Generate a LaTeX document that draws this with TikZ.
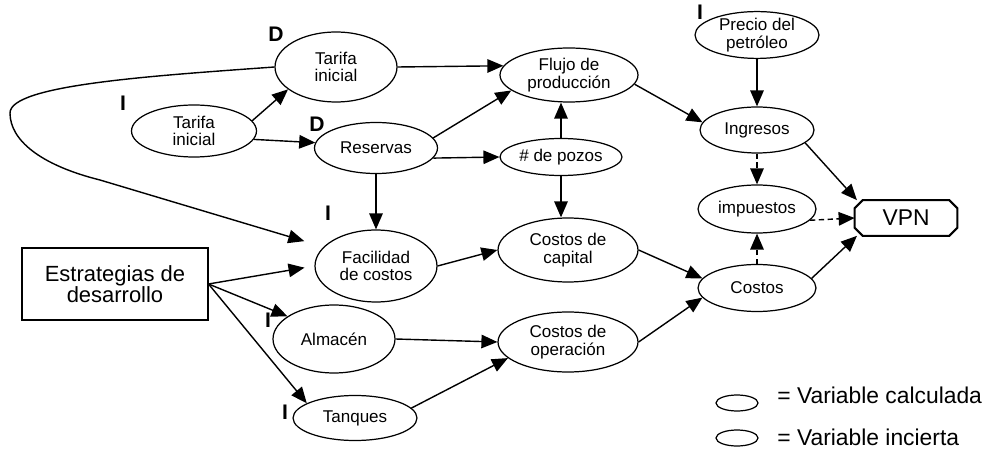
\documentclass[tikz,border=0pt]{standalone}
\usepackage{fontspec}
\setmainfont{Liberation Sans}
\usetikzlibrary{arrows.meta,shapes.geometric}

\tikzset{
  var/.style={draw, ellipse, line width=0.7pt, inner sep=0pt, align=center,
    font=\fontsize{9.7}{9.8}\selectfont},
  flecha/.style={line width=0.8pt, -{Triangle[length=0.32cm,width=0.27cm]}},
  tipo/.style={inner sep=0pt, font=\fontsize{12}{12}\selectfont\bfseries},
  leyenda/.style={inner sep=0pt, anchor=west, font=\fontsize{13}{13}\selectfont}
}

\begin{document}
\begin{tikzpicture}[x=0.02cm, y=-0.02cm]
   \useasboundingbox (0,0) rectangle (1000,452);

   \node[var, minimum width=2.44cm, minimum height=1.4cm] (tarD) at (336,67) {Tarifa\\inicial};
   \node[var, minimum width=2.5cm, minimum height=1.04cm] (tarI) at (194,131) {Tarifa\\inicial};
   \node[var, minimum width=2.46cm, minimum height=1.02cm] (res) at (376,148) {Reservas};
   \node[var, minimum width=2.44cm, minimum height=0.74cm] (pozos) at (561,157) {\# de pozos};
   \node[var, minimum width=2.76cm, minimum height=1.08cm] (flujo) at (569,75) {Flujo de\\producción};
   \node[var, minimum width=2.48cm, minimum height=0.88cm] (precio) at (757,35) {Precio del\\petróleo};
   \node[var, minimum width=2.28cm, minimum height=0.92cm] (ingresos) at (757,130) {Ingresos};
   \node[var, minimum width=2.36cm, minimum height=0.96cm] (impuestos) at (757,209) {impuestos};
   \node[var, minimum width=2.36cm, minimum height=0.94cm] (costos) at (757,288) {Costos};
   \node[var, minimum width=2.8cm, minimum height=1.28cm] (capital) at (568,250) {Costos de\\capital};
   \node[var, minimum width=2.8cm, minimum height=1.2cm] (operacion) at (568,342) {Costos de\\operación};
   \node[var, minimum width=2.44cm, minimum height=1.44cm] (fac) at (376,266) {Facilidad\\de costos};
   \node[var, minimum width=2.44cm, minimum height=1.36cm] (almacen) at (334,339) {Almacén};
   \node[var, minimum width=2.48cm, minimum height=0.9cm] (tanques) at (355,418) {Tanques};

   % VPN: octagonal box with cut corners
   \node[minimum width=2.04cm, minimum height=0.7cm, inner sep=0pt,
         font=\fontsize{13}{13}\selectfont] (vpn) at (906,218) {VPN};
   \draw[line width=1.2pt] ([xshift=0.16cm]vpn.north west) -- ([xshift=-0.16cm]vpn.north east)
        -- ([yshift=-0.16cm]vpn.north east) -- ([yshift=0.16cm]vpn.south east)
        -- ([xshift=-0.16cm]vpn.south east) -- ([xshift=0.16cm]vpn.south west)
        -- ([yshift=0.16cm]vpn.south west) -- ([yshift=-0.16cm]vpn.north west) -- cycle;

   \node[draw, line width=0.6pt, minimum width=3.72cm, minimum height=1.44cm, align=center,
         font=\fontsize{12.5}{12}\selectfont] (estr) at (115,284) {Estrategias de\\desarrollo};

   \node[tipo] (dTarifa) at (276,34) {D};
   \node[tipo] (dReservas) at (317,124) {D};
   \node[tipo] (iTarifa) at (123,103) {I};
   \node[tipo] (iPrecio) at (700,12) {I};
   \node[tipo] (iFacilidad) at (328,213) {I};
   \node[tipo] (iAlmacen) at (268,320) {I};
   \node[tipo] (iTanques) at (285,412) {I};

   \draw[flecha] (tarI.10) -- (tarD.205);
   \draw[flecha] (tarI.-8) -- (res.175);
   \draw[flecha] (tarD.east) -- (flujo.172);
   \draw[flecha] (res.10) -- (flujo.195);
   \draw[flecha] (res.-10) -- (pozos.west);
   \draw[flecha] (res.south) -- (fac.north);
   \draw[flecha] (pozos.north) -- (pozos.north |- flujo.south);
   \draw[flecha] (pozos.south) -- (pozos.south |- capital.north);
   \draw[flecha] (flujo.-8) -- (ingresos.172);
   \draw[flecha] (precio) -- (ingresos);
   \draw[flecha, densely dashed] (ingresos) -- (impuestos);
   \draw[flecha] (ingresos.-15) -- (vpn.160);
   \draw[flecha, densely dashed] (impuestos.-12) -- (vpn.west);
   \draw[flecha, densely dashed] (costos) -- (impuestos);
   \draw[flecha] (costos.10) -- (vpn.200);
   \draw[flecha] (fac.east) -- (capital.west);
   \draw[flecha] (capital.east) -- (costos.170);
   \draw[flecha] (almacen.east) -- (operacion.west);
   \draw[flecha] (tanques.10) -- (operacion.195);
   \draw[flecha] (operacion.east) -- (costos.190);
   \draw[flecha, shorten >=0.2cm] (estr.east) -- (fac.west);
   \draw[flecha] (estr.east) -- (almacen.154);
   \draw[flecha] (estr.east) -- (tanques.163);
   \draw[flecha, shorten >=0.4cm] (tarD.west) .. controls (150,76) and (10,85) .. (10,113)
        .. controls (10,140) and (40,165) .. (100,180) -- (fac.160);

   \node[var, minimum width=0.84cm, minimum height=0.32cm] (calc) at (737,403) {};
   \node[var, minimum width=0.84cm, minimum height=0.32cm] (inc) at (737,438) {};
   \node[leyenda] (calcTxt) at (777,395) {= Variable calculada};
   \node[leyenda] (incTxt) at (777,437) {= Variable incierta};
\end{tikzpicture}
\end{document}
